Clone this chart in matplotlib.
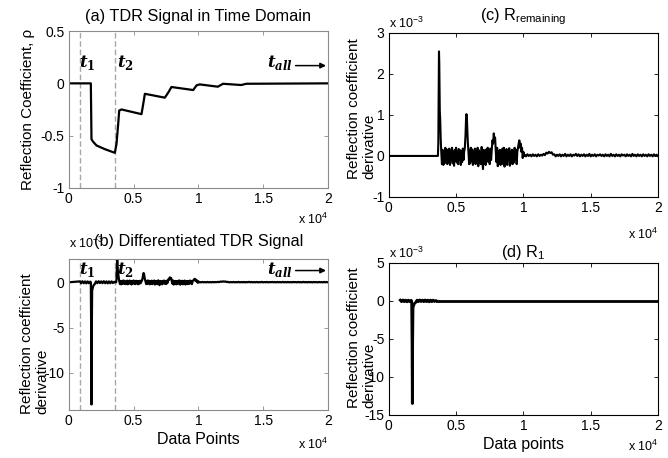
import numpy as np
import matplotlib
matplotlib.use("Agg")
import matplotlib.pyplot as plt

plt.rcParams['font.family'] = ['Liberation Sans', 'DejaVu Sans']
plt.rcParams['mathtext.fontset'] = 'custom'
plt.rcParams['mathtext.rm'] = 'Liberation Sans'
plt.rcParams['mathtext.bf'] = 'DejaVu Serif:bold'
plt.rcParams['mathtext.bfit'] = 'DejaVu Serif:italic:bold'

# (a) TDR signal, reflection coefficient vs data point
tdr_x = [0, 1700, 1750, 1880, 2140, 2780, 3550, 3680, 3810, 3890, 4070,
         5610, 5740, 5870, 7410, 7670, 7920, 9600, 9860, 10100, 11500,
         11900, 13300, 13700, 20000]
tdr_y = [0, 0, -0.535, -0.56, -0.595, -0.63, -0.665, -0.58, -0.39, -0.26,
         -0.25, -0.295, -0.20, -0.10, -0.137, -0.089, -0.035, -0.064,
         -0.019, -0.01, -0.032, -0.004, -0.016, -0.004, 0.0]

# marker positions t1 and t2
t1_pos = 850
t2_pos = 3550

# (d) R_1: derivative between t1 and t2 (units of 1e-3)
r1_x = [850, 950, 1050, 1150, 1250, 1350, 1450, 1550, 1650, 1700, 1730,
        1750, 1770, 1800, 1850, 1900, 2000, 2100, 2200, 2300, 2400, 2500,
        2600, 2700, 2800, 2900, 3000, 3100, 3200, 3300, 3400, 3500, 3550]
r1_y = [0.1, -0.1, 0.12, -0.1, 0.1, -0.12, 0.1, -0.1, 0.08, 0.0, -6.0,
        -13.5, -6.0, -0.9, -0.6, -0.35, -0.2, 0.1, -0.1, 0.12, -0.08, 0.1,
        -0.1, 0.12, -0.1, 0.1, -0.12, 0.1, -0.1, 0.1, -0.08, 0.05, 0.0]

# (c) R_remaining: derivative after t2 (units of 1e-3)
spike_x = [0, 3650, 3680, 3710, 3730, 3750, 3770, 3790, 3820, 3860, 3900,
           3950]
spike_y = [0, 0, 0.3, 1.8, 2.55, 2.3, 1.6, 1.1, 0.9, 0.4, 0.1, -0.2]
band1_y = [0.15, -0.22, 0.1, -0.18, 0.2, -0.12, 0.16, -0.2, 0.08, -0.15,
           0.18, -0.22, 0.12, -0.1, 0.2, -0.18, 0.1, -0.24, 0.15, -0.12,
           0.2, -0.16, 0.1, -0.2, 0.17, -0.1, 0.14, -0.22, 0.12, -0.15,
           0.18, -0.1, 0.1]
peak2_x = [5650, 5700, 5740, 5770, 5800, 5830, 5870, 5920, 5970, 6020]
peak2_y = [0.2, 0.5, 0.9, 1.02, 0.95, 0.7, 0.35, 0.1, -0.2, 0.15]
band2_y = [-0.18, 0.2, -0.12, 0.16, -0.22, 0.1, -0.15, 0.18, -0.2, 0.12,
           -0.1, 0.2, -0.25, 0.14, -0.16, 0.1, -0.2, 0.22, -0.12, -0.32,
           0.15, -0.18, 0.1, -0.22, 0.16, -0.12, 0.2, -0.15, 0.1, -0.2,
           0.18, -0.1]
peak3_x = [7650, 7700, 7750, 7800, 7850, 7900, 7950, 8000]
peak3_y = [0.15, 0.38, 0.3, 0.55, 0.4, 0.45, 0.1, -0.15]
band3_y = [0.2, -0.25, 0.12, -0.18, 0.15, -0.22, 0.1, -0.2, 0.18, -0.12,
           0.2, -0.26, 0.1, -0.15, 0.17, -0.22, 0.12, -0.1, 0.19, -0.24,
           0.1, -0.18, 0.15, -0.2, 0.12, -0.16, 0.2, -0.1, 0.15, -0.2, 0.1]
peak4_x = [9600, 9650, 9700, 9750, 9800, 9850, 9900, 9950, 10000, 10050]
peak4_y = [0.2, 0.3, 0.38, 0.2, 0.3, 0.1, 0.2, -0.05, 0.1, 0.0]
tail_y = [0.03, -0.01, 0.04, 0.0, 0.03, -0.01, 0.04, 0.0, 0.03, -0.01,
          0.04, 0.0, 0.03, 0.01, 0.05, 0.02, 0.08, 0.06, 0.1, 0.07,
          0.09, 0.03, 0.04, -0.01, 0.03, 0.0, 0.04, -0.01, 0.03, 0.0,
          0.05, -0.01, 0.03, 0.0, 0.04, -0.01, 0.03, 0.01, 0.05, 0.0,
          0.04, -0.01, 0.03, 0.0, 0.04, -0.01, 0.03, 0.0, 0.05, -0.01,
          0.03, 0.0, 0.04, -0.01, 0.03, 0.01, 0.04, 0.0, 0.03, -0.01,
          0.04, 0.0, 0.03, -0.01, 0.05, 0.0, 0.03, -0.01, 0.04, 0.0,
          0.03, -0.01, 0.04, 0.01, 0.03, -0.01, 0.04, 0.0, 0.03, -0.01,
          0.05, 0.0, 0.03, -0.01, 0.04, 0.0, 0.03, -0.01, 0.04, 0.0,
          0.03, -0.01, 0.04, 0.0, 0.03, -0.01, 0.04, 0.0, 0.03, 0.0]


def spread(start, stop, vals):
    return list(np.linspace(start, stop, len(vals)))


rem_x = np.array(spike_x + spread(4000, 5600, band1_y) + peak2_x
                 + spread(6050, 7600, band2_y) + peak3_x
                 + spread(8050, 9550, band3_y) + peak4_x
                 + spread(10100, 20000, tail_y))
rem_y = np.array(spike_y + band1_y + peak2_y + band2_y + peak3_y + band3_y
                 + peak4_y + tail_y)

# (b) whole differentiated signal = zeros before t1, R_1, then R_remaining
keep = rem_x > r1_x[-1]
diff_x = np.concatenate([[0], r1_x, rem_x[keep]])
diff_y = np.concatenate([[0], r1_y, rem_y[keep]])

xticks = [0, 5000, 10000, 15000, 20000]
xticklabels = ['0', '0.5', '1', '1.5', '2']
ylab2 = 'Reflection coefficient\nderivative'


def style_axes(ax, edge):
    for s in ax.spines.values():
        s.set_color(edge)
        s.set_linewidth(0.8)
    ax.tick_params(direction='in', length=3, width=0.6, color=edge,
                   top=True, right=True, labelsize=10, pad=3)
    ax.set_xlim(0, 20000)
    ax.set_xticks(xticks)
    ax.set_xticklabels(xticklabels)


def sci(ax, text, xy, off, ha):
    ax.annotate(text, xy=xy, xycoords='axes fraction', xytext=off,
                textcoords='offset points', ha=ha, va='center', fontsize=9)


def t_marks(ax, y, ya):
    ax.text(780, y, r'$\mathbfit{t}_{\mathbf{1}}$', fontsize=12, va='center')
    ax.text(3750, y, r'$\mathbfit{t}_{\mathbf{2}}$', fontsize=12,
            va='center')
    ax.text(15300, y, r'$\mathbfit{t}_{\mathbfit{all}}$', fontsize=12,
            va='center')
    ax.annotate('', xy=(19850, ya), xytext=(17500, ya),
                arrowprops=dict(arrowstyle='-|>', color='k', lw=1.1,
                                mutation_scale=8, shrinkA=0, shrinkB=0))
    for xv in (t1_pos, t2_pos):
        ax.axvline(xv, color='#a8a8a8', ls=(0, (4, 2)), lw=1.0)


fig = plt.figure(figsize=(6.68, 4.58), dpi=100)

# (a)
ax = fig.add_axes([0.103, 0.590, 0.388, 0.342])
style_axes(ax, '#8a8a8a')
t_marks(ax, 0.2, 0.17)
ax.plot(tdr_x, tdr_y, color='k', lw=1.6)
ax.set_ylim(-1, 0.5)
ax.set_yticks([-1, -0.5, 0, 0.5])
ax.set_yticklabels(['-1', '-0.5', '0', '0.5'])
ax.set_title('(a) TDR Signal in Time Domain', fontsize=11.7, pad=7)
ax.set_ylabel(u'Reflection Coefficient, \u03c1', fontsize=11)
ax.yaxis.set_label_coords(-0.13, 0.5)
sci(ax, r'x 10$^{4}$', (1.0, 0.0), (0, -23), 'right')

# (b)
ax = fig.add_axes([0.103, 0.105, 0.388, 0.330])
style_axes(ax, '#8a8a8a')
t_marks(ax, 1.4, 1.3)
ax.plot(diff_x, diff_y, color='k', lw=1.6)
ax.set_ylim(-14.1, 2.6)
ax.set_yticks([-10, -5, 0])
ax.set_yticklabels(['-10', '-5', '0'])
sci(ax, r'x 10$^{-3}$', (0.0, 1.0), (0, 11), 'left')
ax.set_title('(b) Differentiated TDR Signal', fontsize=11.7, pad=9)
ax.set_ylabel(ylab2, fontsize=11, multialignment='left', linespacing=1.15)
ax.yaxis.set_label_coords(-0.075, 0.44)
ax.set_xlabel('Data Points', fontsize=11.5, labelpad=3)
sci(ax, r'x 10$^{4}$', (1.0, 0.0), (0, -25), 'right')

# (c)
ax = fig.add_axes([0.582, 0.570, 0.403, 0.358])
style_axes(ax, 'k')
ax.plot(rem_x, rem_y, color='k', lw=1.5)
ax.set_ylim(-1, 3)
ax.set_yticks([-1, 0, 1, 2, 3])
ax.set_yticklabels(['-1', '0', '1', '2', '3'])
ax.set_title(r'(c) R$_{\mathrm{remaining}}$', fontsize=11.7, pad=9)
ax.set_ylabel(ylab2, fontsize=11, multialignment='left', linespacing=1.15)
ax.yaxis.set_label_coords(-0.045, 0.54)
sci(ax, r'x 10$^{-3}$', (0.0, 1.0), (0, 7), 'left')
sci(ax, r'x 10$^{4}$', (1.0, 0.0), (0, -27), 'right')

# (d)
ax = fig.add_axes([0.582, 0.094, 0.403, 0.332])
style_axes(ax, 'k')
ax.plot(r1_x, r1_y, color='k', lw=2.0)
ax.plot([r1_x[-1], 20000], [0, 0], color='k', lw=2.0)
ax.set_ylim(-15, 5)
ax.set_yticks([-15, -10, -5, 0, 5])
ax.set_yticklabels(['-15', '-10', '-5', '0', '5'])
ax.set_title(r'(d) R$_{\mathrm{1}}$', fontsize=11.7, pad=4)
ax.set_ylabel(ylab2, fontsize=11, multialignment='left', linespacing=1.15)
ax.yaxis.set_label_coords(-0.045, 0.51)
ax.set_xlabel('Data points', fontsize=11.5, labelpad=3)
sci(ax, r'x 10$^{-3}$', (0.0, 1.0), (0, 7), 'left')
sci(ax, r'x 10$^{4}$', (1.0, 0.0), (0, -23), 'right')

fig.savefig('out.png', dpi=100)
